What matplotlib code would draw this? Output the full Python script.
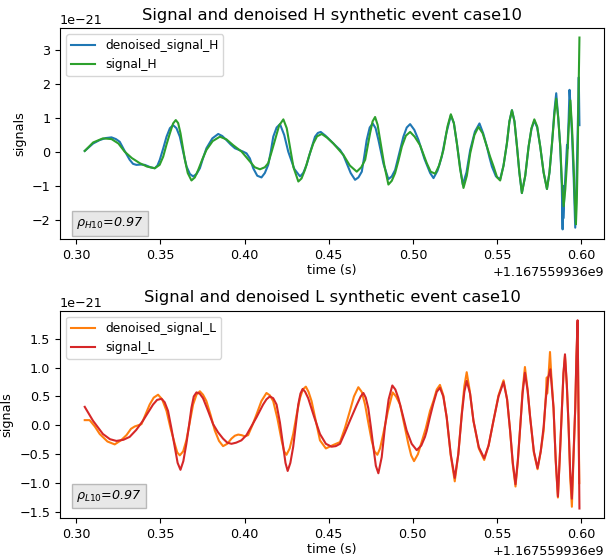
"""Signal vs denoised signal for the H and L detectors (synthetic event case10)."""
import numpy as np
import matplotlib
matplotlib.use("Agg")
import matplotlib.pyplot as plt
from matplotlib.ticker import MultipleLocator

plt.rcParams["font.size"] = 9.2
plt.rcParams["legend.fontsize"] = 8.8

T0 = 1167559936.0
SCALE = 1e-21

# denoised_signal_H (time offset from T0, strain / 1e-21)
t_den_H = [0.3050, 0.3100, 0.3139, 0.3175, 0.3209, 0.3235, 0.3258, 0.3285, 0.3317, 0.3337,
           0.3357, 0.3385, 0.3407, 0.3440, 0.3466, 0.3482, 0.3496, 0.3516, 0.3536, 0.3556,
           0.3575, 0.3595, 0.3615, 0.3635, 0.3655, 0.3675, 0.3694, 0.3714, 0.3734, 0.3753,
           0.3773, 0.3808, 0.3843, 0.3867, 0.3892, 0.3917, 0.3942, 0.3966, 0.3991, 0.4011,
           0.4031, 0.4051, 0.4075, 0.4100, 0.4120, 0.4140, 0.4155, 0.4170, 0.4190, 0.4210,
           0.4235, 0.4259, 0.4295, 0.4329, 0.4348, 0.4368, 0.4393, 0.4418, 0.4435, 0.4452,
           0.4480, 0.4507, 0.4537, 0.4567, 0.4587, 0.4606, 0.4630, 0.4656, 0.4676, 0.4696,
           0.4710, 0.4725, 0.4743, 0.4761, 0.4778, 0.4795, 0.4825, 0.4854, 0.4874, 0.4894,
           0.4918, 0.4943, 0.4963, 0.4983, 0.5008, 0.5033, 0.5068, 0.5102, 0.5122, 0.5146,
           0.5171, 0.5198, 0.5225, 0.5243, 0.5261, 0.5280, 0.5296, 0.5318, 0.5340, 0.5368,
           0.5395, 0.5417, 0.5439, 0.5454, 0.5469, 0.5493, 0.5518, 0.5538, 0.5558, 0.5573,
           0.5588, 0.5603, 0.5618, 0.5632, 0.5647, 0.5667, 0.5687, 0.5704, 0.5721, 0.5738,
           0.5756, 0.5776, 0.5796, 0.5811, 0.5826, 0.5840, 0.5851, 0.5863, 0.5875, 0.5884,
           0.5889, 0.5891, 0.5893, 0.5900, 0.5910, 0.5915, 0.5918, 0.5925, 0.5930, 0.5933,
           0.5945, 0.5955, 0.5964, 0.5970, 0.5978, 0.5985, 0.5989]
den_H = [0.03, 0.25, 0.35, 0.41, 0.43, 0.38, 0.30, 0.05, -0.23, -0.35,
         -0.38, -0.37, -0.38, -0.45, -0.48, -0.40, -0.23, 0.10, 0.45, 0.70,
         0.79, 0.70, 0.45, 0.00, -0.43, -0.65, -0.72, -0.65, -0.48, -0.18,
         0.11, 0.40, 0.53, 0.47, 0.35, 0.22, 0.11, 0.06, 0.01, -0.04,
         -0.19, -0.48, -0.70, -0.75, -0.62, -0.38, 0.00, 0.45, 0.72, 0.82,
         0.50, 0.01, -0.50, -0.72, -0.62, -0.38, 0.05, 0.45, 0.56, 0.59,
         0.48, 0.35, 0.20, 0.06, -0.10, -0.33, -0.62, -0.82, -0.75, -0.58,
         -0.15, 0.35, 0.72, 0.84, 0.70, 0.35, -0.35, -0.80, -0.72, -0.53,
         -0.05, 0.45, 0.72, 0.82, 0.65, 0.35, -0.20, -0.62, -0.77, -0.55,
         -0.14, 0.55, 1.08, 0.85, 0.25, -0.45, -0.96, -0.60, 0.06, 0.60,
         0.84, 0.55, 0.16, -0.15, -0.43, -0.72, -0.80, -0.40, 0.25, 0.90,
         1.23, 0.90, 0.16, -0.60, -1.21, -0.70, 0.16, 0.68, 0.92, 0.72,
         0.16, -0.60, -1.09, -0.60, 0.25, 1.20, 1.73, 1.00, 0.16, -0.97,
         -2.28, -1.00, -1.96, -1.20, -0.30, 0.20, 0.10, 1.00, 1.83, 1.60,
         0.50, -0.80, -2.23, -1.20, 0.50, 2.20, 0.79]

# signal_H
t_sig_H = [0.3050, 0.3100, 0.3158, 0.3209, 0.3250, 0.3287, 0.3330, 0.3377, 0.3420, 0.3466,
           0.3495, 0.3516, 0.3536, 0.3556, 0.3575, 0.3591, 0.3605, 0.3619, 0.3632, 0.3645,
           0.3662, 0.3684, 0.3704, 0.3724, 0.3750, 0.3773, 0.3810, 0.3853, 0.3892, 0.3932,
           0.3982, 0.4031, 0.4060, 0.4091, 0.4120, 0.4140, 0.4160, 0.4180, 0.4205, 0.4230,
           0.4250, 0.4269, 0.4290, 0.4319, 0.4338, 0.4358, 0.4385, 0.4408, 0.4430, 0.4458,
           0.4490, 0.4527, 0.4557, 0.4587, 0.4625, 0.4666, 0.4693, 0.4716, 0.4730, 0.4745,
           0.4760, 0.4775, 0.4790, 0.4805, 0.4830, 0.4854, 0.4874, 0.4894, 0.4914, 0.4934,
           0.4958, 0.4983, 0.5010, 0.5042, 0.5082, 0.5105, 0.5132, 0.5155, 0.5181, 0.5205,
           0.5225, 0.5243, 0.5261, 0.5280, 0.5300, 0.5320, 0.5340, 0.5365, 0.5389, 0.5414,
           0.5439, 0.5459, 0.5479, 0.5500, 0.5518, 0.5538, 0.5558, 0.5573, 0.5588, 0.5603,
           0.5618, 0.5632, 0.5647, 0.5667, 0.5687, 0.5704, 0.5721, 0.5738, 0.5756, 0.5776,
           0.5796, 0.5811, 0.5826, 0.5840, 0.5851, 0.5863, 0.5875, 0.5885, 0.5895, 0.5905,
           0.5915, 0.5925, 0.5935, 0.5945, 0.5954, 0.5962, 0.5968, 0.5973, 0.5978, 0.5983,
           0.5989]
sig_H = [0.03, 0.28, 0.40, 0.38, 0.25, 0.01, -0.18, -0.33, -0.43, -0.48,
         -0.38, -0.14, 0.22, 0.55, 0.84, 0.94, 0.85, 0.55, 0.15, -0.23,
         -0.62, -0.84, -0.75, -0.53, -0.20, 0.06, 0.32, 0.45, 0.37, 0.20,
         0.01, -0.28, -0.45, -0.51, -0.45, -0.33, 0.00, 0.35, 0.78, 0.96,
         0.70, 0.16, -0.45, -0.87, -0.78, -0.53, -0.08, 0.25, 0.46, 0.53,
         0.42, 0.25, 0.08, -0.09, -0.40, -0.58, -0.45, -0.23, 0.15, 0.55,
         0.90, 1.03, 0.80, 0.35, -0.40, -0.96, -0.85, -0.62, -0.25, 0.16,
         0.48, 0.59, 0.45, 0.20, -0.33, -0.58, -0.64, -0.40, 0.06, 0.75,
         1.11, 0.85, 0.25, -0.50, -1.06, -0.70, -0.04, 0.50, 0.74, 0.55,
         0.16, -0.15, -0.43, -0.75, -0.84, -0.40, 0.25, 0.90, 1.23, 0.90,
         0.16, -0.60, -1.21, -0.70, 0.16, 0.70, 0.96, 0.75, 0.16, -0.60,
         -1.09, -0.60, 0.25, 1.10, 1.57, 1.00, 0.16, -0.90, -1.60, -1.10,
         -0.33, 0.70, 1.52, 0.70, -0.33, -1.50, -2.13, -1.50, -0.30, 1.50,
         3.37]

# denoised_signal_L
t_den_L = [0.3050, 0.3079, 0.3110, 0.3139, 0.3185, 0.3228, 0.3265, 0.3298, 0.3325, 0.3347,
           0.3367, 0.3387, 0.3410, 0.3436, 0.3460, 0.3486, 0.3510, 0.3536, 0.3560, 0.3585,
           0.3600, 0.3615, 0.3635, 0.3654, 0.3674, 0.3694, 0.3714, 0.3734, 0.3753, 0.3773,
           0.3798, 0.3823, 0.3848, 0.3872, 0.3897, 0.3922, 0.3942, 0.3962, 0.3982, 0.4001,
           0.4021, 0.4046, 0.4071, 0.4100, 0.4130, 0.4150, 0.4170, 0.4195, 0.4220, 0.4235,
           0.4249, 0.4268, 0.4289, 0.4309, 0.4329, 0.4346, 0.4364, 0.4380, 0.4398, 0.4423,
           0.4448, 0.4483, 0.4505, 0.4527, 0.4567, 0.4596, 0.4626, 0.4650, 0.4676, 0.4696,
           0.4716, 0.4735, 0.4755, 0.4772, 0.4789, 0.4805, 0.4824, 0.4852, 0.4880, 0.4900,
           0.4924, 0.4948, 0.4973, 0.4990, 0.5007, 0.5030, 0.5052, 0.5077, 0.5102, 0.5122,
           0.5142, 0.5161, 0.5181, 0.5201, 0.5225, 0.5249, 0.5270, 0.5291, 0.5306, 0.5320,
           0.5338, 0.5360, 0.5392, 0.5424, 0.5450, 0.5479, 0.5509, 0.5539, 0.5560, 0.5578,
           0.5594, 0.5610, 0.5624, 0.5638, 0.5652, 0.5666, 0.5682, 0.5697, 0.5719, 0.5741,
           0.5760, 0.5777, 0.5790, 0.5796, 0.5798, 0.5805, 0.5815, 0.5822, 0.5836, 0.5849,
           0.5862, 0.5874, 0.5886, 0.5895, 0.5904, 0.5915, 0.5925, 0.5935, 0.5945, 0.5955,
           0.5965, 0.5972, 0.5979, 0.5984, 0.5989]
den_L = [0.09, 0.09, -0.02, -0.15, -0.28, -0.33, -0.26, -0.17, -0.06, -0.02,
         0.00, 0.02, 0.18, 0.36, 0.48, 0.53, 0.45, 0.25, -0.05, -0.32,
         -0.47, -0.52, -0.45, -0.26, 0.05, 0.36, 0.53, 0.59, 0.53, 0.42,
         0.18, -0.09, -0.27, -0.36, -0.32, -0.23, -0.18, -0.16, -0.17, -0.19,
         -0.17, 0.00, 0.19, 0.42, 0.56, 0.52, 0.42, 0.12, -0.26, -0.45,
         -0.51, -0.40, -0.15, 0.18, 0.47, 0.62, 0.67, 0.58, 0.42, 0.08,
         -0.26, -0.40, -0.37, -0.34, -0.29, -0.05, 0.25, 0.50, 0.66, 0.58,
         0.36, 0.05, -0.26, -0.45, -0.51, -0.40, -0.15, 0.25, 0.57, 0.50,
         0.36, 0.03, -0.32, -0.52, -0.62, -0.50, -0.29, -0.05, 0.25, 0.42,
         0.62, 0.70, 0.52, 0.14, -0.52, -0.97, -0.50, 0.22, 0.68, 0.92,
         0.60, 0.08, -0.40, -0.60, -0.35, 0.08, 0.52, 0.78, 0.45, -0.10,
         -0.68, -1.06, -0.62, -0.03, 0.60, 1.01, 0.62, 0.14, -0.47, -0.76,
         -0.45, -0.10, 0.50, 0.83, 0.55, 0.80, 1.27, 0.90, 0.30, -0.62,
         -1.25, -0.50, 0.30, 0.90, 1.20, 0.70, 0.02, -0.90, -1.41, -0.55,
         0.30, 1.15, 1.78, 0.30, -1.00]

# signal_L
t_sig_L = [0.3050, 0.3099, 0.3158, 0.3200, 0.3238, 0.3280, 0.3317, 0.3356, 0.3396, 0.3426,
           0.3456, 0.3480, 0.3506, 0.3525, 0.3545, 0.3565, 0.3585, 0.3602, 0.3619, 0.3636,
           0.3654, 0.3670, 0.3684, 0.3698, 0.3714, 0.3733, 0.3753, 0.3783, 0.3813, 0.3842,
           0.3872, 0.3897, 0.3922, 0.3950, 0.3981, 0.4011, 0.4040, 0.4071, 0.4110, 0.4130,
           0.4150, 0.4170, 0.4190, 0.4210, 0.4230, 0.4243, 0.4256, 0.4272, 0.4289, 0.4304,
           0.4319, 0.4332, 0.4345, 0.4360, 0.4378, 0.4413, 0.4448, 0.4483, 0.4517, 0.4542,
           0.4567, 0.4596, 0.4626, 0.4666, 0.4690, 0.4706, 0.4720, 0.4735, 0.4750, 0.4765,
           0.4780, 0.4795, 0.4815, 0.4834, 0.4856, 0.4878, 0.4896, 0.4914, 0.4938, 0.4963,
           0.4993, 0.5023, 0.5050, 0.5072, 0.5082, 0.5102, 0.5122, 0.5142, 0.5161, 0.5181,
           0.5201, 0.5225, 0.5249, 0.5270, 0.5291, 0.5306, 0.5320, 0.5340, 0.5360, 0.5392,
           0.5424, 0.5450, 0.5479, 0.5509, 0.5539, 0.5560, 0.5578, 0.5594, 0.5610, 0.5624,
           0.5638, 0.5652, 0.5666, 0.5682, 0.5697, 0.5719, 0.5741, 0.5760, 0.5777, 0.5790,
           0.5803, 0.5817, 0.5836, 0.5849, 0.5862, 0.5874, 0.5886, 0.5895, 0.5904, 0.5915,
           0.5925, 0.5935, 0.5945, 0.5955, 0.5965, 0.5972, 0.5979, 0.5984, 0.5990]
sig_L = [0.32, 0.08, -0.15, -0.24, -0.27, -0.25, -0.20, -0.08, 0.08, 0.22,
         0.36, 0.44, 0.46, 0.40, 0.25, -0.05, -0.37, -0.65, -0.77, -0.62,
         -0.32, 0.00, 0.30, 0.50, 0.57, 0.55, 0.47, 0.25, 0.02, -0.12,
         -0.23, -0.30, -0.32, -0.30, -0.26, -0.17, -0.02, 0.14, 0.36, 0.45,
         0.50, 0.47, 0.36, 0.05, -0.37, -0.65, -0.79, -0.65, -0.37, 0.00,
         0.36, 0.55, 0.63, 0.58, 0.47, 0.15, -0.15, -0.32, -0.37, -0.36,
         -0.32, -0.13, 0.08, 0.35, 0.50, 0.56, 0.48, 0.30, -0.02, -0.37,
         -0.70, -0.83, -0.55, -0.03, 0.45, 0.69, 0.62, 0.47, 0.20, -0.09,
         -0.32, -0.43, -0.35, -0.20, -0.10, 0.15, 0.38, 0.58, 0.65, 0.50,
         0.14, -0.50, -0.91, -0.50, 0.19, 0.58, 0.77, 0.55, 0.08, -0.38,
         -0.57, -0.35, 0.08, 0.50, 0.75, 0.45, -0.09, -0.65, -1.02, -0.60,
         -0.03, 0.55, 0.91, 0.60, 0.14, -0.45, -0.74, -0.45, -0.03, 0.45,
         0.81, 0.97, 0.30, -0.60, -1.23, -0.50, 0.30, 0.90, 1.23, 0.70,
         0.02, -0.80, -1.27, -0.50, 0.30, 1.20, 1.82, 0.30, -1.44]

rho_H = 0.97
rho_L = 0.97


def panel(ax, t_den, den, t_sig, sig, det, rho, c_den, c_sig, text_y, ystep):
    ax.plot(T0 + np.array(t_den), np.array(den) * SCALE, color=c_den,
            label=f"denoised_signal_{det}")
    ax.plot(T0 + np.array(t_sig), np.array(sig) * SCALE, color=c_sig,
            label=f"signal_{det}")
    ax.yaxis.set_major_locator(MultipleLocator(ystep * SCALE))
    ax.set_title(f"Signal and denoised {det} synthetic event case10", fontsize=11.8)
    ax.set_xlabel("time (s)", labelpad=2)
    ax.set_ylabel("signals")
    ax.legend(loc="upper left")
    ax.text(0.03, text_y, rf"$\rho_{{{det}10}}$={rho}", transform=ax.transAxes,
            fontsize=9.2, fontstyle="italic",
            bbox=dict(facecolor="lightgray", edgecolor="gray", alpha=0.5, pad=3))


fig = plt.figure(figsize=(6.06, 5.59), dpi=100)
ax1 = fig.add_axes([0.099, 0.5725, 0.898, 0.3775])
ax2 = fig.add_axes([0.099, 0.0735, 0.898, 0.3705])
panel(ax1, t_den_H, den_H, t_sig_H, sig_H, "H", rho_H, "tab:blue", "tab:green", 0.06, 1.0)
panel(ax2, t_den_L, den_L, t_sig_L, sig_L, "L", rho_L, "tab:orange", "tab:red", 0.09, 0.5)

fig.savefig("out.png", dpi=100)
plt.close(fig)
